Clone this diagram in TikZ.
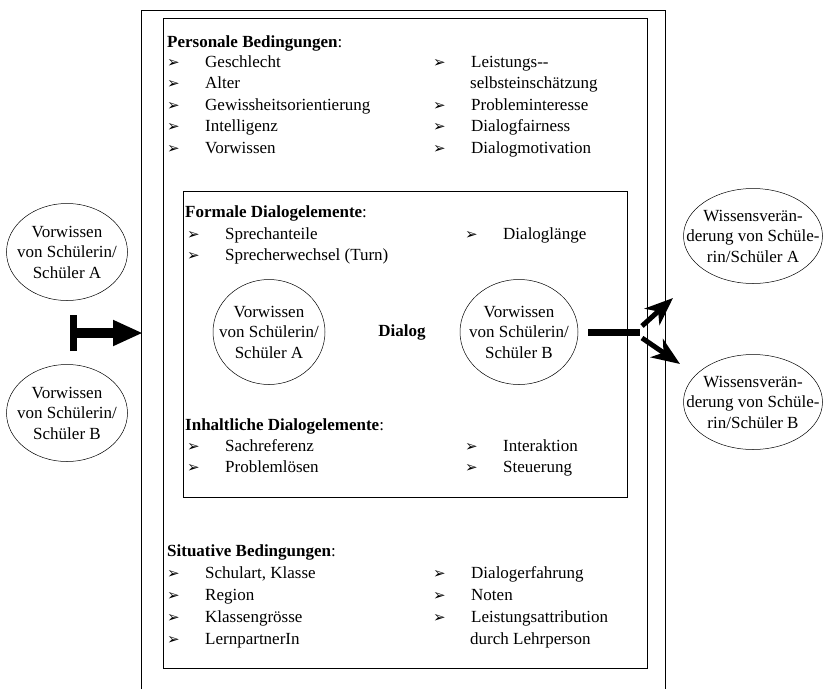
\documentclass[tikz,border=0pt]{standalone}
\usepackage{fontspec}
\setmainfont{Liberation Serif}
\newfontfamily\dingfont{DejaVu Sans}
\usetikzlibrary{arrows.meta,shapes.geometric}

\newcommand{\arr}{\makebox[38pt][l]{\dingfont\fontsize{15}{15}\selectfont ➢}}

\tikzset{
  box/.style={draw, line width=0.8pt},
  itm/.style={anchor=base west, inner sep=0pt},
  oval/.style={draw, ellipse, line width=0.5pt, inner sep=-25pt, align=center,
    font=\fontsize{17}{20.5}\selectfont},
}

\begin{document}
\begin{tikzpicture}[x=1pt,y=-1pt,font=\fontsize{17}{21.5}\selectfont]
\useasboundingbox (0,0) rectangle (836,689);

\draw[box] (141,689) |- (665,10) -- (665,689);
\draw[box] (163,18) rectangle (647,668);
\draw[box] (183,191) rectangle (627,497);

% personale
\node[itm] (ph) at (167,47) {\textbf{Personale Bedingungen}:};
\foreach \t [count=\i] in {Geschlecht, Alter, Gewissheitsorientierung, Intelligenz, Vorwissen}
  \node[itm] (pa\i) at (167,{67+21.5*(\i-1)}) {\arr\t};
\node[itm] (pb1) at (433,67) {\arr Leistungs-{}-};
\node[itm] (pb2) at (470,88.5) {selbsteinschätzung};
\node[itm] (pb3) at (433,110) {\arr Probleminteresse};
\node[itm] (pb4) at (433,131.5) {\arr Dialogfairness};
\node[itm] (pb5) at (433,153) {\arr Dialogmotivation};

% formale
\node[itm] (fh) at (185,217) {\textbf{Formale Dialogelemente}:};
\node[itm] (fa1) at (187,239) {\arr Sprechanteile};
\node[itm] (fa2) at (187,260) {\arr Sprecherwechsel (Turn)};
\node[itm] (fb1) at (465,239) {\arr Dialoglänge};

\node[oval, minimum width=112pt, minimum height=105pt] (dA) at (269,332) {Vorwissen\\von Schülerin/\\Schüler A};
\node[font=\fontsize{17}{20}\selectfont\bfseries] (dlg) at (402,332) {Dialog};
\node[oval, minimum width=118pt, minimum height=105pt] (dB) at (519,332) {Vorwissen\\von Schülerin/\\Schüler B};

% inhaltliche
\node[itm] (ih) at (185,430) {\textbf{Inhaltliche Dialogelemente}:};
\node[itm] (ia1) at (187,451) {\arr Sachreferenz};
\node[itm] (ia2) at (187,472) {\arr Problemlösen};
\node[itm] (ib1) at (465,451) {\arr Interaktion};
\node[itm] (ib2) at (465,472) {\arr Steuerung};

% situative
\node[itm] (sh) at (167,556) {\textbf{Situative Bedingungen}:};
\foreach \t [count=\i] in {{Schulart, Klasse}, Region, Klassengrösse, LernpartnerIn}
  \node[itm] (sa\i) at (167,{578+22*(\i-1)}) {\arr\t};
\node[itm] (sb1) at (433,578) {\arr Dialogerfahrung};
\node[itm] (sb2) at (433,600) {\arr Noten};
\node[itm] (sb3) at (433,622) {\arr Leistungsattribution};
\node[itm] (sb4) at (470,644) {durch Lehrperson};

% aussen
\node[oval, minimum width=121pt, minimum height=97pt] (lA) at (67,252) {Vorwissen\\von Schülerin/\\Schüler A};
\node[oval, minimum width=121pt, minimum height=97pt] (lB) at (67,413) {Vorwissen\\von Schülerin/\\Schüler B};
\node[oval, minimum width=139pt, minimum height=95pt] (wA) at (753,236) {Wissensverän-\\derung von Schüle-\\rin/Schüler A};
\node[oval, minimum width=139pt, minimum height=95pt] (wB) at (753,402) {Wissensverän-\\derung von Schüle-\\rin/Schüler B};

\coordinate (l0) at (70,333);
\coordinate (l1) at (143,333);
\draw[line width=10pt, {Bar[width=36pt,line width=7pt]}-{Triangle[length=30pt,width=24pt]}] (l0) -- (l1);

\coordinate (r0) at (588,332);
\coordinate (r1) at (640,332);
\coordinate (r1a) at (642,326);
\coordinate (r1b) at (642,338);
\coordinate (ra) at (673,298);
\coordinate (rb) at (680,364);
\draw[line width=7pt] (r0) -- (r1);
\draw[line width=5pt, -{Stealth[length=28pt,width=22pt,inset=8pt]}] (r1a) -- (ra);
\draw[line width=5pt, -{Stealth[length=28pt,width=22pt,inset=8pt]}] (r1b) -- (rb);

\end{tikzpicture}
\end{document}
